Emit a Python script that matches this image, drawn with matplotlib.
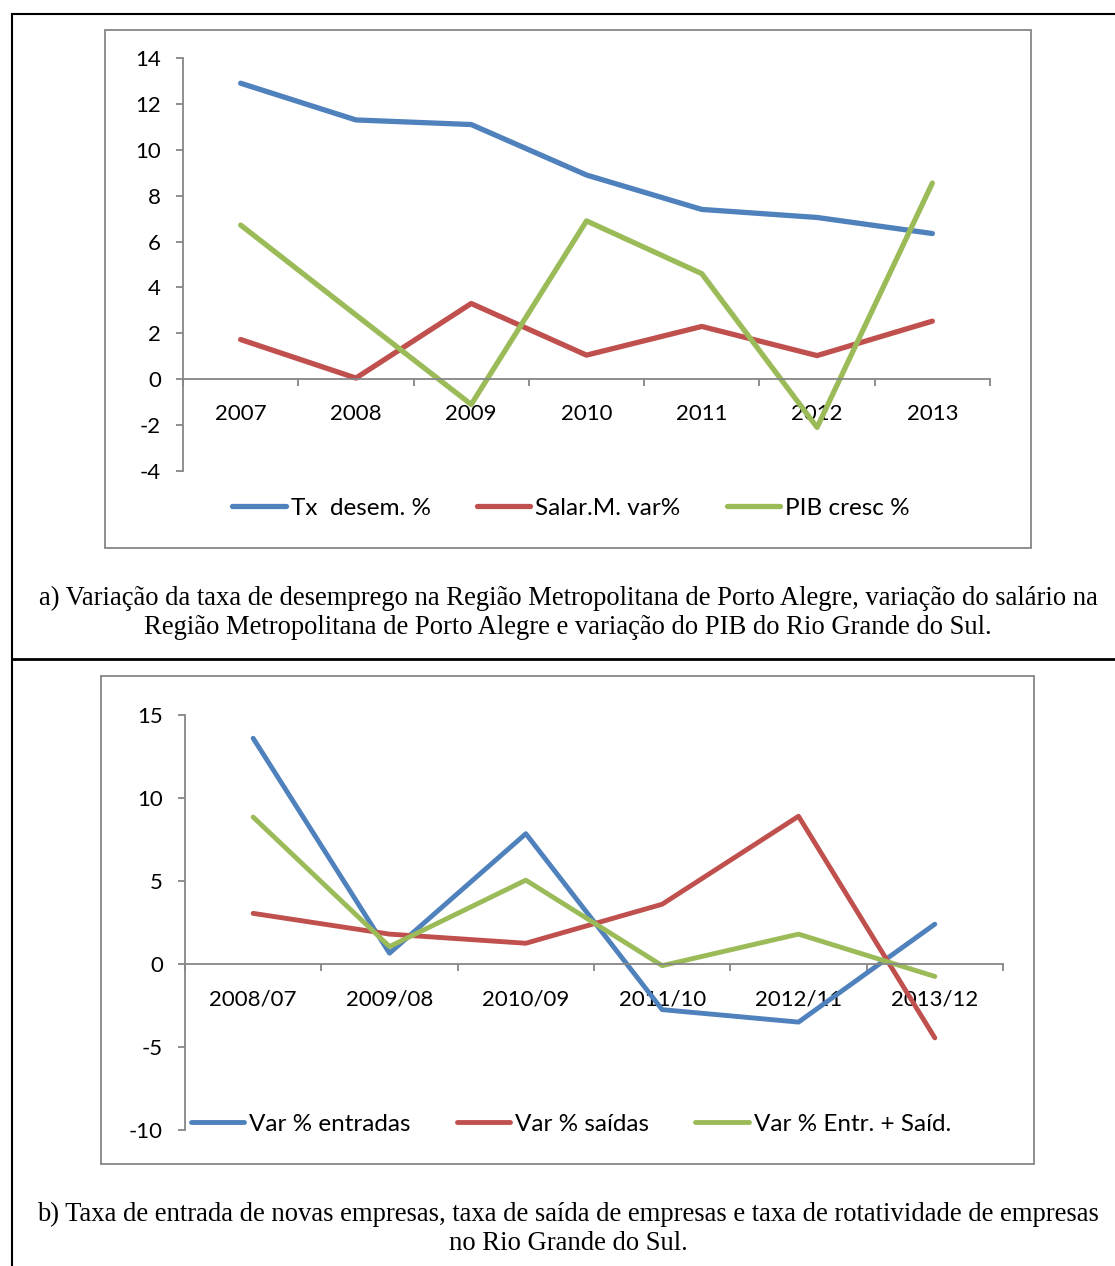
import numpy as np
import matplotlib
matplotlib.use('Agg')
import matplotlib.pyplot as plt
from matplotlib.lines import Line2D
from matplotlib.patches import Rectangle

plt.rcParams['axes.unicode_minus'] = False

# chart a) data
anos = ['2007', '2008', '2009', '2010', '2011', '2012', '2013']
tx_desem = [12.9, 11.3, 11.1, 8.9, 7.4, 7.05, 6.35]
salar_var = [1.73, 0.05, 3.3, 1.05, 2.3, 1.03, 2.53]
pib_cresc = [6.72, 2.8, -1.1, 6.9, 4.6, -2.1, 8.55]

# chart b) data
periodos = ['2008/07', '2009/08', '2010/09', '2011/10', '2012/11', '2013/12']
var_entradas = [13.6, 0.65, 7.85, -2.75, -3.5, 2.4]
var_saidas = [3.05, 1.8, 1.25, 3.6, 8.9, -4.45]
var_rotat = [8.85, 1.05, 5.05, -0.1, 1.8, -0.75]

azul = '#4F81BD'
vermelho = '#C0504D'
verde = '#9BBB59'
cinza = '#868686'

W, H = 1115, 1266
fig = plt.figure(figsize=(W / 100, H / 100), dpi=100)

def fx(px):
    return px / W

def fy(py):
    return 1 - py / H

def linha(x0, y0, x1, y1, lw=1.5, cor='black'):
    fig.add_artist(Line2D([fx(x0), fx(x1)], [fy(y0), fy(y1)], color=cor, lw=lw,
                          transform=fig.transFigure))

def caixa(x0, y0, x1, y1):
    fig.add_artist(Rectangle((fx(x0), fy(y1)), fx(x1) - fx(x0), fy(y0) - fy(y1),
                             fill=False, ec=cinza, lw=1.3, transform=fig.transFigure))

# table borders
linha(12, 14, W, 14)
linha(12, 14, 12, H)
linha(12, 659, W, 659, lw=2)

caixa(105, 30, 1031, 548)
caixa(101, 676, 1034, 1164)

fonte = 'Lato'

def grafico(left, right, top, bottom, cats, series, ylim, ystep, leg_y, lw):
    ax = fig.add_axes([fx(left), fy(bottom), fx(right) - fx(left), fy(top) - fy(bottom)])
    x = np.arange(len(cats))
    for vals, cor, nome in series:
        ax.plot(x, vals, color=cor, lw=lw, label=nome,
                solid_capstyle='round', solid_joinstyle='round')
    ax.set_xlim(-0.5, len(cats) - 0.5)
    ax.set_ylim(*ylim)
    for s in ['top', 'right']:
        ax.spines[s].set_visible(False)
    ax.spines['bottom'].set_position(('data', 0))
    ax.spines['bottom'].set_color(cinza)
    ax.spines['left'].set_color(cinza)
    ax.spines['bottom'].set_linewidth(1.3)
    ax.spines['left'].set_linewidth(1.3)
    ax.set_yticks(np.arange(ylim[0], ylim[1] + 0.1, ystep))
    ax.tick_params(axis='y', length=5, width=1.3, color=cinza, pad=11,
                   labelsize=16, labelfontfamily=fonte)
    ax.set_xticks(np.arange(len(cats) + 1) - 0.5)
    ax.set_xticklabels([])
    ax.set_xticks(x, minor=True)
    ax.set_xticklabels(cats, minor=True)
    ax.tick_params(axis='x', which='major', length=5, width=1.3, color=cinza)
    ax.tick_params(axis='x', which='minor', length=0, pad=18,
                   labelsize=16, labelfontfamily=fonte)
    ax.patch.set_alpha(0)
    h, l = ax.get_legend_handles_labels()
    fig.legend(h, l, loc='center', bbox_to_anchor=(fx(571), fy(leg_y)), ncol=3,
               frameon=False, prop={'family': fonte, 'size': 17.5},
               handlelength=2.2, handletextpad=0.2, columnspacing=1.9)
    return ax

grafico(183, 990, 58, 471, anos,
        [(tx_desem, azul, 'Tx  desem. %'),
         (salar_var, vermelho, 'Salar.M. var%'),
         (pib_cresc, verde, 'PIB cresc %')],
        (-4, 14), 2, 508, 3.8)

grafico(185, 1003, 715, 1130, periodos,
        [(var_entradas, azul, 'Var % entradas'),
         (var_saidas, vermelho, 'Var % saídas'),
         (var_rotat, verde, 'Var % Entr. + Saíd.')],
        (-10, 15), 5, 1124, 3.5)

serif = 'Liberation Serif'
fs = 19.2
fig.text(fx(568), fy(598), 'a) Variação da taxa de desemprego na Região Metropolitana de Porto Alegre, '
         'variação do salário na', ha='center', va='center', family=serif, fontsize=fs)
fig.text(fx(568), fy(628), 'Região Metropolitana de Porto Alegre e variação do PIB do Rio Grande do Sul.',
         ha='center', va='center', family=serif, fontsize=fs)
fig.text(fx(568), fy(1214), 'b) Taxa de entrada de novas empresas, taxa de saída de empresas e taxa de '
         'rotatividade de empresas', ha='center', va='center', family=serif, fontsize=fs)
fig.text(fx(568), fy(1244), 'no Rio Grande do Sul.',
         ha='center', va='center', family=serif, fontsize=fs)

fig.savefig('out.png', dpi=100)
